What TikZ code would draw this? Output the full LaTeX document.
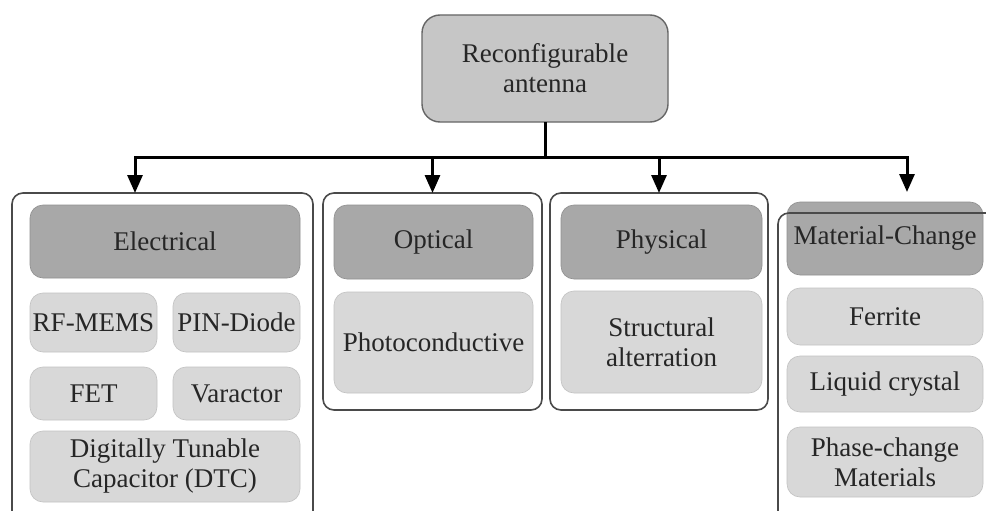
\documentclass[tikz,border=0pt]{standalone}
\usepackage{fontspec}
\setmainfont{Liberation Serif}
\usetikzlibrary{arrows.meta}
\definecolor{txt}{HTML}{262626}
\definecolor{hdr}{HTML}{A8A8A8}
\definecolor{lite}{HTML}{D8D8D8}
\definecolor{topf}{HTML}{C6C6C6}
\definecolor{edge}{HTML}{4A4A4A}
\begin{document}
\begin{tikzpicture}[x=1pt,y=-1pt,
  every node/.style={inner sep=0pt,outer sep=0pt,text=txt,font=\fontsize{27}{30}\selectfont,align=center},
  grp/.style={draw=edge,line width=1.6pt,rounded corners=11pt,rectangle},
  hbox/.style={fill=hdr,draw=hdr!85!black,line width=0.6pt,rounded corners=13pt,rectangle},
  lbox/.style={fill=lite,draw=lite!90!black,line width=0.6pt,rounded corners=13pt,rectangle},
  topbox/.style={fill=topf,draw=gray!80!black,line width=1.4pt,rounded corners=18pt,rectangle},
  conn/.style={line width=3pt,draw=black,line join=miter},
  arr/.style={conn,-{Triangle[width=15pt,length=18pt]}}
]
\useasboundingbox (0,0) rectangle (986,511);
\clip (0,0) rectangle (986,511);
\fill[white] (0,0) rectangle (986,511);

% top node
\node[topbox,minimum width=246pt,minimum height=107pt] (top) at (545,68.5) {Reconfigurable\\antenna};

% groups
\node[grp,fill=white,minimum width=301pt,minimum height=337pt] (ge) at (162.5,361.5) {};
\node[grp,fill=white,minimum width=219pt,minimum height=217pt] (og) at (432.5,301.5) {};
\node[grp,fill=white,minimum width=218pt,minimum height=217pt] (pg) at (659,301.5) {};

% electrical
\node[hbox,minimum width=270pt,minimum height=73pt] (eh) at (165,241.5) {Electrical};
\node[lbox,minimum width=127pt,minimum height=59pt] (rf) at (93.5,322.5) {RF-MEMS};
\node[lbox,minimum width=127pt,minimum height=59pt] (pin) at (236.5,322.5) {PIN-Diode};
\node[lbox,minimum width=127pt,minimum height=53pt] (fet) at (93.5,393.5) {FET};
\node[lbox,minimum width=127pt,minimum height=53pt] (var) at (236.5,393.5) {Varactor};
\node[lbox,minimum width=270pt,minimum height=71pt] (dtc) at (165,466.5) {Digitally Tunable\\Capacitor (DTC)};

% optical
\node[hbox,minimum width=199pt,minimum height=74pt] (oh) at (433.5,242) {Optical};
\node[lbox,minimum width=199pt,minimum height=101pt] (pc) at (433.5,342.5) {Photoconductive};

% physical
\node[hbox,minimum width=201pt,minimum height=74pt] (ph) at (661.5,242) {Physical};
\node[lbox,minimum width=201pt,minimum height=102pt] (sa) at (661.5,342) {Structural\\alterration};

% material
\node[hbox,minimum width=196pt,minimum height=73pt] (mh) at (885,238.5) {Material-Change};
\node[lbox,minimum width=196pt,minimum height=57pt] (fe) at (885,316.5) {Ferrite};
\node[lbox,minimum width=196pt,minimum height=56pt] (lc) at (885,384) {Liquid crystal};
\node[lbox,minimum width=196pt,minimum height=70pt] (phc) at (885,462) {Phase-change\\Materials};
\node[grp,fill=none,minimum width=222pt,minimum height=317pt] (mg) at (889,371.5) {};

% connectors
\coordinate (j) at (top.south |- 0,157);
\draw[conn] (top.south) -- (j);
\draw[arr] (j) -| ([xshift=-27.5pt]ge.north);
\draw[arr] (j) -| (og.north);
\draw[arr] (j) -| (pg.north);
\draw[arr] (j) -| ([xshift=22pt,yshift=10pt]mh.north);
\end{tikzpicture}
\end{document}
